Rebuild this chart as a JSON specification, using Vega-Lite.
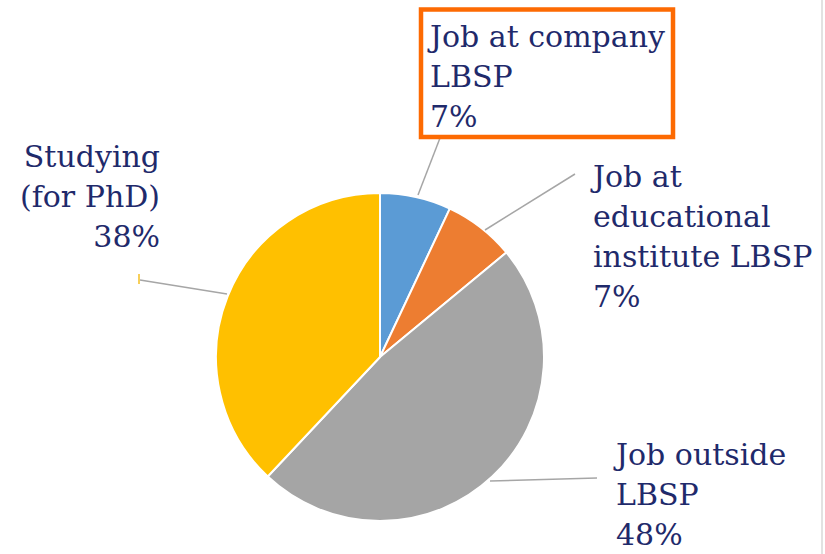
{
  "$schema": "https://vega.github.io/schema/vega-lite/v6.json",
  "width": 825,
  "height": 554,
  "autosize": {"type": "none"},
  "padding": 0,
  "background": "white",
  "config": {"view": {"stroke": null}},
  "datasets": {
    "slices": [
      {"category": "Job at company LBSP", "value": 7, "ord": 1},
      {"category": "Job at educational institute LBSP", "value": 7, "ord": 2},
      {"category": "Job outside LBSP", "value": 48, "ord": 3},
      {"category": "Studying (for PhD)", "value": 38, "ord": 4}
    ],
    "leaders": [
      {"category": "Job at company LBSP", "x": 0.2317, "y": 0.9878, "x2": 0.3659, "y2": 1.3354},
      {"category": "Job at educational institute LBSP", "x": 0.6402, "y": 0.7744, "x2": 1.189, "y2": 1.1159},
      {"category": "Job outside LBSP", "x": 0.6707, "y": -0.7561, "x2": 1.3232, "y2": -0.7378},
      {"category": "Studying (for PhD)", "x": -0.9329, "y": 0.3841, "x2": -1.4634, "y2": 0.4695}
    ],
    "labels": [
      {"category": "Job at company LBSP", "lines": ["Job at company", "LBSP", "7%"], "x": 0.3049, "y": 1.8902, "side": "left"},
      {"category": "Job at educational institute LBSP", "lines": ["Job at", "educational", "institute LBSP", "7%"], "x": 1.2988, "y": 1.0366, "side": "left"},
      {"category": "Job outside LBSP", "lines": ["Job outside", "LBSP", "48%"], "x": 1.439, "y": -0.6585, "side": "left"},
      {"category": "Studying (for PhD)", "lines": ["Studying", "(for PhD)", "38%"], "x": -1.3415, "y": 1.1585, "side": "right"}
    ]
  },
  "layer": [
    {
      "data": {"values": [{"x": 2.6951, "y": -1.2012, "y2": 2.1768}]},
      "mark": {"type": "rule", "color": "#e2e2e2", "strokeWidth": 2},
      "encoding": {
        "x": {"field": "x", "type": "quantitative", "scale": {"domain": [-2.3171, 2.7134], "nice": false, "zero": false}, "axis": null},
        "y": {"field": "y", "type": "quantitative", "scale": {"domain": [-1.2012, 2.1768], "nice": false, "zero": false}, "axis": null},
        "y2": {"field": "y2"}
      }
    },
    {
      "data": {"name": "slices"},
      "mark": {"type": "arc", "outerRadius": 164, "stroke": "white", "strokeWidth": 2},
      "encoding": {
        "theta": {"field": "value", "type": "quantitative", "stack": true},
        "order": {"field": "ord", "type": "quantitative"},
        "color": {
          "field": "category",
          "type": "nominal",
          "scale": {
            "domain": ["Job at company LBSP", "Job at educational institute LBSP", "Job outside LBSP", "Studying (for PhD)"],
            "range": ["#5b9bd5", "#ed7d31", "#a5a5a5", "#ffc000"]
          },
          "legend": null
        },
        "x": {"datum": 0, "type": "quantitative"},
        "y": {"datum": 0, "type": "quantitative"}
      }
    },
    {
      "data": {"name": "leaders"},
      "mark": {"type": "rule", "color": "#a6a6a6", "strokeWidth": 1.5},
      "encoding": {
        "x": {"field": "x", "type": "quantitative"},
        "y": {"field": "y", "type": "quantitative"},
        "x2": {"field": "x2"},
        "y2": {"field": "y2"}
      }
    },
    {
      "data": {"values": [{"x": -1.4695, "y": 0.4451, "y2": 0.5061}]},
      "mark": {"type": "rule", "color": "#f7cf5a", "strokeWidth": 2},
      "encoding": {
        "x": {"field": "x", "type": "quantitative"},
        "y": {"field": "y", "type": "quantitative"},
        "y2": {"field": "y2"}
      }
    },
    {
      "data": {"values": [{"x": 0.25, "x2": 1.7866, "y": 1.3415, "y2": 2.1189}]},
      "mark": {"type": "rect", "fill": null, "fillOpacity": 0, "stroke": "#fd6a02", "strokeWidth": 4.5},
      "encoding": {
        "x": {"field": "x", "type": "quantitative"},
        "x2": {"field": "x2"},
        "y": {"field": "y", "type": "quantitative"},
        "y2": {"field": "y2"}
      }
    },
    {
      "data": {"name": "labels"},
      "transform": [{"filter": "datum.side === 'left'"}],
      "mark": {"type": "text", "font": "DejaVu Serif", "fontSize": 30, "lineHeight": 40, "color": "#1f2a6b", "align": "left", "baseline": "alphabetic"},
      "encoding": {
        "x": {"field": "x", "type": "quantitative"},
        "y": {"field": "y", "type": "quantitative"},
        "text": {"field": "lines"}
      }
    },
    {
      "data": {"name": "labels"},
      "transform": [{"filter": "datum.side === 'right'"}],
      "mark": {"type": "text", "font": "DejaVu Serif", "fontSize": 30, "lineHeight": 40, "color": "#1f2a6b", "align": "right", "baseline": "alphabetic"},
      "encoding": {
        "x": {"field": "x", "type": "quantitative"},
        "y": {"field": "y", "type": "quantitative"},
        "text": {"field": "lines"}
      }
    }
  ]
}
